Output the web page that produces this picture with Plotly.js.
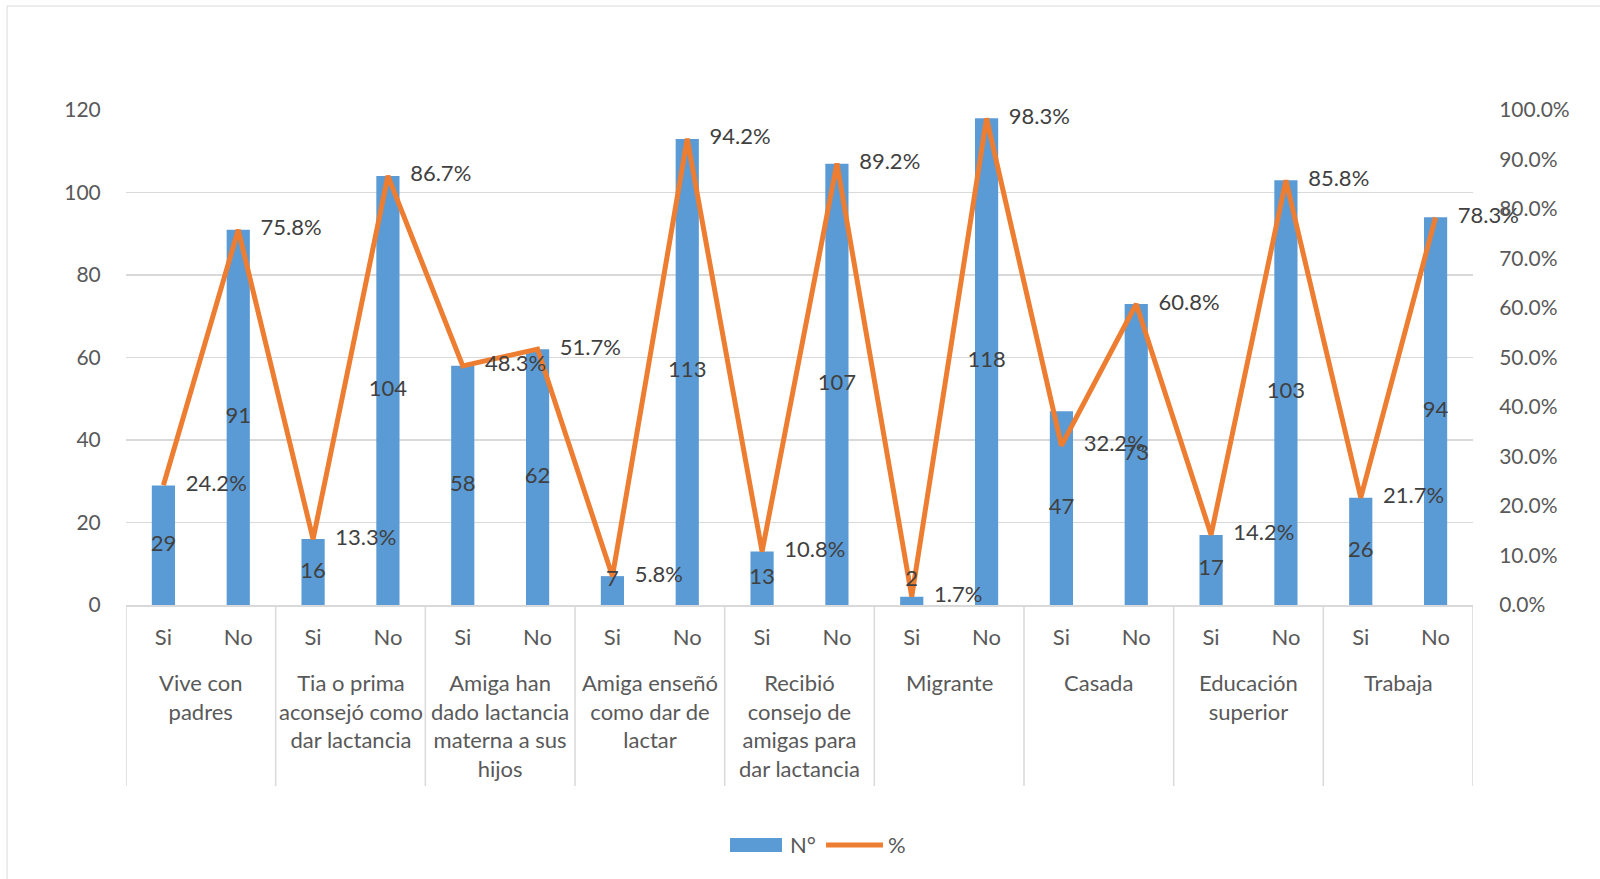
<!DOCTYPE html>
<html>
<head>
<meta charset="utf-8">
<script src="https://cdn.plot.ly/plotly-3.0.1.min.js"></script>
<style>html,body{margin:0;padding:0;background:#fff;}#chart{width:1600px;height:879px;}</style>
</head>
<body>
<div id="chart"></div>
<script>
// Outer categories (groups) and inner categories
const groups = [
  "Vive con<br>padres",
  "Tia o prima<br>aconsejó como<br>dar lactancia",
  "Amiga han<br>dado lactancia<br>materna a sus<br>hijos",
  "Amiga enseñó<br>como dar de<br>lactar",
  "Recibió<br>consejo de<br>amigas para<br>dar lactancia",
  "Migrante",
  "Casada",
  "Educación<br>superior",
  "Trabaja"
];
const answers = ["Si", "No"];

// N° per group: [Si, No]
const countSi = [29, 16, 58, 7, 13, 2, 47, 17, 26];
const countNo = [91, 104, 62, 113, 107, 118, 73, 103, 94];

// % per group: [Si, No]
const pctSi = [24.2, 13.3, 48.3, 5.8, 10.8, 1.7, 32.2, 14.2, 21.7];
const pctNo = [75.8, 86.7, 51.7, 94.2, 89.2, 98.3, 60.8, 85.8, 78.3];

// Flatten into 18 positions
const idx = [], inner = [], counts = [], pcts = [];
groups.forEach((g, i) => {
  answers.forEach((a, j) => {
    idx.push(i * answers.length + j);
    inner.push(a);
    counts.push(j === 0 ? countSi[i] : countNo[i]);
    pcts.push((j === 0 ? pctSi[i] : pctNo[i]) / 100);
  });
});
const nSlots = idx.length;
const Y_MAX = 120;

const FONT = "Lato, 'Open Sans', sans-serif";
const TICKCOL = "#595959";
const LABCOL = "#404040";
const BLUE = "#5B9BD5";
const ORANGE = "#ED7D31";
const GRID = "#d9d9d9";

// Bar value labels: centred in bar, kept clear of the axis (as Excel does).
// Drawn on the overlaid axis (same 0..Y_MAX scale) so they sit above the line.
const labelY = counts.map(c => Math.max(c / 2, 6) / Y_MAX);

const traces = [
  {
    type: "bar",
    name: "N°",
    x: idx,
    y: counts,
    marker: {color: BLUE, line: {width: 0}},
    showlegend: false,
    hoverinfo: "skip"
  },
  {
    type: "scatter",
    name: "%",
    x: idx,
    y: pcts,
    yaxis: "y2",
    mode: "lines+markers+text",
    line: {color: ORANGE, width: 5},
    marker: {size: 34, color: "rgba(0,0,0,0)"},
    texttemplate: "%{y:.1%}",
    textposition: "middle right",
    textfont: {family: FONT, size: 22, color: LABCOL},
    cliponaxis: false,
    showlegend: false,
    hoverinfo: "skip"
  },
  {
    type: "scatter",
    name: "N° labels",
    x: idx,
    y: labelY,
    yaxis: "y2",
    mode: "text",
    text: counts.map(String),
    textposition: "middle center",
    textfont: {family: FONT, size: 22, color: LABCOL},
    showlegend: false,
    cliponaxis: false,
    hoverinfo: "skip"
  }
];

const annotations = groups.map((g, i) => ({
  xref: "x", yref: "paper",
  x: i * answers.length + (answers.length - 1) / 2,
  y: -0.125,
  xanchor: "center", yanchor: "top",
  text: g,
  showarrow: false,
  align: "center",
  font: {family: FONT, size: 22, color: TICKCOL}
}));
annotations.push(
  {xref: "paper", yref: "paper", x: 0.4915, y: -0.4848, xanchor: "left", yanchor: "middle",
   text: "N°", showarrow: false, font: {family: FONT, size: 22, color: TICKCOL}},
  {xref: "paper", yref: "paper", x: 0.5642, y: -0.4848, xanchor: "left", yanchor: "middle",
   text: "%", showarrow: false, font: {family: FONT, size: 22, color: TICKCOL}}
);

const shapes = [
  {type: "rect", xref: "paper", yref: "paper",
   x0: -0.0883, x1: 1.098, y0: -0.566, y1: 1.2101,
   line: {color: GRID, width: 1}, fillcolor: "rgba(0,0,0,0)", layer: "below"},
  {type: "rect", xref: "paper", yref: "paper",
   x0: 0.4484, x1: 0.4870, y0: -0.4990, y1: -0.4707,
   line: {width: 0}, fillcolor: BLUE},
  {type: "line", xref: "paper", yref: "paper",
   x0: 0.5197, x1: 0.5620, y0: -0.4848, y1: -0.4848,
   line: {color: ORANGE, width: 5}}
];
for (let i = 0; i <= groups.length; i++) {
  const xv = i * answers.length - 0.5;
  shapes.push({type: "line", xref: "x", yref: "paper",
    x0: xv, x1: xv, y0: 0, y1: -0.3657,
    line: {color: GRID, width: 1.5}});
}

const layout = {
  width: 1600,
  height: 879,
  margin: {l: 126, r: 127, t: 110, b: 274},
  paper_bgcolor: "#ffffff",
  plot_bgcolor: "#ffffff",
  font: {family: FONT, size: 20, color: TICKCOL},
  bargap: 0.69,
  showlegend: false,
  xaxis: {
    type: "linear",
    range: [-0.5, nSlots - 0.5],
    tickmode: "array",
    tickvals: idx,
    ticktext: inner,
    showline: true,
    linecolor: GRID,
    linewidth: 1.5,
    showgrid: false,
    zeroline: false,
    ticks: "outside",
    ticklen: 12,
    tickcolor: "rgba(0,0,0,0)",
    tickfont: {family: FONT, size: 22, color: TICKCOL}
  },
  yaxis: {
    range: [0, Y_MAX],
    dtick: 20,
    showgrid: true,
    gridcolor: GRID,
    gridwidth: 1.5,
    zeroline: false,
    showline: false,
    ticks: "outside",
    ticklen: 20,
    tickcolor: "rgba(0,0,0,0)",
    tickfont: {family: FONT, size: 21, color: TICKCOL}
  },
  yaxis2: {
    overlaying: "y",
    side: "right",
    range: [0, 1],
    dtick: 0.1,
    tickformat: ".1%",
    showgrid: false,
    zeroline: false,
    showline: false,
    ticks: "outside",
    ticklen: 21,
    tickcolor: "rgba(0,0,0,0)",
    tickfont: {family: FONT, size: 21, color: TICKCOL}
  },
  annotations: annotations,
  shapes: shapes
};

Plotly.newPlot("chart", traces, layout, {displayModeBar: false, staticPlot: true});
</script>
</body>
</html>
